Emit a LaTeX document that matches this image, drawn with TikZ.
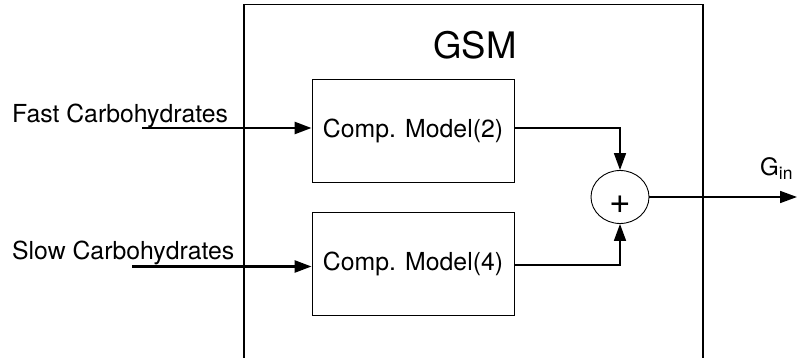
\documentclass[tikz,border=0pt]{standalone}
\usepackage{fontspec}
\setmainfont{TeX Gyre Heros}
\usetikzlibrary{arrows.meta,shapes.geometric}
\tikzset{
  txt/.style={font=\fontsize{24.8}{30}\selectfont, inner sep=0pt},
  modelbox/.style={draw, line width=0.9pt, minimum width=202pt, minimum height=103pt, inner sep=0pt, font=\fontsize{24.8}{30}\selectfont},
  sumnode/.style={draw, line width=0.9pt, ellipse, minimum width=58pt, minimum height=53pt, inner sep=0pt, text height=33pt, text depth=0pt, font=\fontsize{37}{42}\selectfont},
  inarrow/.style={line width=2.6pt, -{Triangle[length=17pt,width=12pt]}},
  conn/.style={line width=1.7pt, -{Triangle[length=17pt,width=12pt]}},
  frame/.style={line width=1.3pt}
}
\begin{document}
\begin{tikzpicture}[x=1pt,y=-1pt]
\useasboundingbox (0,0) rectangle (797,358);
% GSM frame (open at the bottom)
\draw[frame] (244,365) -- (244,4.5) -- (703,4.5) -- (703,365);
\node[font=\fontsize{36.5}{42}\selectfont, inner sep=0pt, anchor=base] (gsm) at (475,59) {GSM};
% model boxes
\node[modelbox] (b1) at (413,130.5) {Comp. Model(2)};
\node[modelbox] (b2) at (413,263.5) {Comp. Model(4)};
% summation
\node[sumnode] (sum) at (620,197) {+};
% inputs
\node[txt, anchor=base west] (fast) at (12,123) {Fast Carbohydrates};
\node[txt, anchor=base west] (slow) at (12,259) {Slow Carbohydrates};
\coordinate (in1) at (142,128);
\coordinate (in2) at (132,266.5);
\draw[inarrow] (in1) -- (in1 -| b1.west);
\draw[inarrow] (in2) -- (in2 -| b2.west);
% connectors to sum
\coordinate (c1) at (514,128);
\coordinate (c2) at (514,265);
\draw[conn] (c1) -- (c1 -| sum.north) -- (sum.north);
\draw[conn] (c2) -- (c2 -| sum.south) -- (sum.south);
% output
\coordinate (out) at (797,197);
\draw[conn] (sum.east) -- (out);
\node[font=\fontsize{24}{28}\selectfont, inner sep=0pt, anchor=base west] (gin) at (760,175.5) {G\raisebox{-3.5pt}{\fontsize{17.5}{20}\selectfont in}};
\end{tikzpicture}
\end{document}
